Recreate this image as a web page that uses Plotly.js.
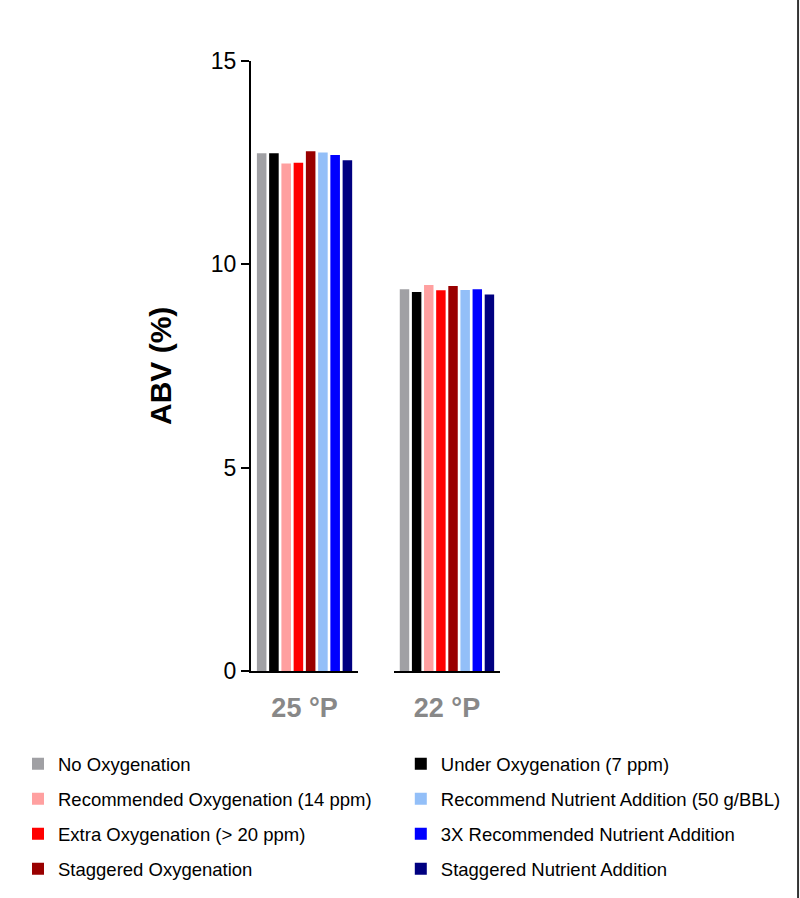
<!DOCTYPE html>
<html>
<head>
<meta charset="utf-8">
<script src="https://cdn.plot.ly/plotly-3.0.1.min.js"></script>
<style>body{margin:0;padding:0;background:#fff;} #chart{width:800px;height:898px;}</style>
</head>
<body>
<div id="chart"></div>
<script>
// ---- data ----
const categories = ["25 °P", "22 °P"];
const seriesNames = [
  "No Oxygenation",
  "Under Oxygenation (7 ppm)",
  "Recommended Oxygenation (14 ppm)",
  "Extra Oxygenation (> 20 ppm)",
  "Staggered Oxygenation",
  "Recommend Nutrient Addition (50 g/BBL)",
  "3X Recommended Nutrient Addition",
  "Staggered Nutrient Addition"
];
const noOxygenation        = [12.73, 9.39];
const underOxygenation     = [12.73, 9.32];
const recommendedOxygen    = [12.48, 9.49];
const extraOxygenation     = [12.50, 9.36];
const staggeredOxygenation = [12.78, 9.47];
const recommendNutrient    = [12.75, 9.37];
const threeXNutrient       = [12.69, 9.39];
const staggeredNutrient    = [12.56, 9.26];
const yTicks = [0, 5, 10, 15];
const yTitle = "ABV (%)";

// ---- styling ----
const seriesValues = [noOxygenation, underOxygenation, recommendedOxygen, extraOxygenation,
  staggeredOxygenation, recommendNutrient, threeXNutrient, staggeredNutrient];
const colors = ["#a0a0a4", "#000000", "#ffa0a0", "#ff0000", "#990000", "#93bff8", "#0000ff", "#000080"];
const legendOf = ["legend", "legend2", "legend", "legend", "legend", "legend2", "legend2", "legend2"];
const FONT = "Liberation Sans, Arial, sans-serif";

const traces = [];
seriesNames.forEach((name, i) => {
  categories.forEach((cat, j) => {
    traces.push({
      type: "bar",
      name: name,
      x: [cat],
      y: [seriesValues[i][j]],
      xaxis: j === 0 ? "x" : "x2",
      yaxis: "y",
      marker: {color: colors[i], line: {width: 0}},
      legend: legendOf[i],
      legendgroup: "g" + i,
      showlegend: j === 0,
      hoverinfo: "y+name"
    });
  });
});

const xCommon = {
  type: "category",
  showline: true, linecolor: "#000", linewidth: 2,
  ticks: "outside", ticklen: 12, tickcolor: "rgba(0,0,0,0)",
  showgrid: false, zeroline: false,
  tickfont: {family: FONT, size: 27, color: "#888888", weight: "bold"},
  anchor: "y", fixedrange: true
};

const legendCommon = {
  orientation: "v",
  font: {family: FONT, size: 18.5, color: "#000"},
  bgcolor: "rgba(0,0,0,0)",
  tracegroupgap: 8,
  itemwidth: 30,
  xref: "container", yref: "container",
  xanchor: "left", yanchor: "top"
};

const layout = {
  width: 800, height: 898,
  margin: {l: 251, r: 300, t: 61, b: 227, pad: 0, autoexpand: false},
  paper_bgcolor: "#ffffff", plot_bgcolor: "#ffffff",
  barmode: "group",
  bargap: 0.085,
  bargroupgap: 0.22,
  showlegend: true,
  xaxis: Object.assign({}, xCommon, {domain: [0, 0.43]}),
  xaxis2: Object.assign({}, xCommon, {domain: [0.574, 1]}),
  yaxis: {
    range: [0, 15],
    tickvals: yTicks,
    ticktext: yTicks.map(String),
    ticks: "outside", ticklen: 8, tickwidth: 2, tickcolor: "#000",
    showline: true, linecolor: "#000", linewidth: 2,
    showgrid: false, zeroline: false,
    tickfont: {family: FONT, size: 23, color: "#000"},
    fixedrange: true
  },
  annotations: [{
    text: yTitle, textangle: -90,
    xref: "paper", yref: "paper", x: -0.3655, y: 0.5,
    xanchor: "center", yanchor: "middle", showarrow: false,
    font: {family: FONT, size: 30, color: "#000", weight: "bold"}
  }],
  legend: Object.assign({}, legendCommon, {x: 0.0225, y: 0.1702}),
  legend2: Object.assign({}, legendCommon, {x: 0.501, y: 0.1702}),
  shapes: [{
    type: "line", xref: "paper", yref: "paper",
    x0: 2.197, x1: 2.197, y0: -0.4, y1: 1.2,
    line: {color: "#333333", width: 2}
  }]
};

Plotly.newPlot("chart", traces, layout, {displayModeBar: false, staticPlot: true});
</script>
</body>
</html>
